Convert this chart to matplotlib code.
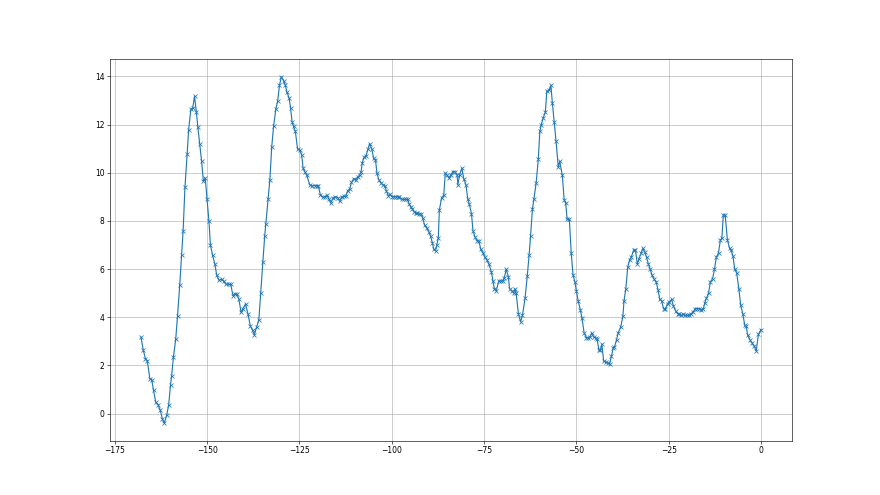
import matplotlib
matplotlib.use("Agg")
import matplotlib.pyplot as plt

# values
x_vals = [
    -167.9, -167.3, -166.7, -166.2, -165.5, -165.0, -164.5, -163.9, -163.3, -162.7,
    -162.1, -161.6, -160.9, -160.4, -159.9, -159.6, -159.1, -158.5, -158.0, -157.4,
    -156.9, -156.5, -156.0, -155.4, -155.0, -154.4, -153.9, -153.4, -152.9, -152.5,
    -152.0, -151.5, -151.0, -150.5, -150.0, -149.5, -149.1, -148.5, -147.9, -147.4,
    -146.8, -146.1, -145.5, -144.9, -144.2, -143.6, -143.0, -142.4, -141.9, -141.4,
    -140.8, -140.3, -139.6, -138.9, -138.3, -137.7, -137.2, -136.6, -136.0, -135.5,
    -134.9, -134.4, -134.1, -133.5, -133.0, -132.5, -132.0, -131.4, -130.9, -130.4,
    -129.9, -129.3, -128.8, -128.4, -127.8, -127.4, -127.0, -126.6, -126.1, -125.5,
    -124.9, -124.4, -124.0, -123.5, -123.0, -122.2, -121.6, -120.9, -120.3, -119.9,
    -119.3, -118.7, -118.1, -117.5, -117.0, -116.5, -115.9, -115.3, -114.6, -114.1,
    -113.6, -113.0, -112.5, -111.9, -111.4, -110.9, -110.3, -109.8, -109.2, -108.7,
    -108.3, -108.0, -107.5, -107.0, -106.4, -106.0, -105.4, -104.9, -104.4, -104.0,
    -103.5, -102.9, -102.4, -101.8, -101.5, -100.9, -100.5, -99.9, -99.4, -98.9,
    -98.3, -97.9, -97.3, -96.8, -96.2, -95.7, -95.3, -94.9, -94.4, -93.9,
    -93.5, -93.1, -92.5, -92.0, -91.6, -91.1, -90.5, -90.0, -89.5, -89.0,
    -88.6, -88.1, -87.8, -87.4, -87.1, -86.5, -85.9, -85.5, -85.1, -84.5,
    -84.0, -83.4, -82.9, -82.3, -82.1, -81.6, -81.0, -80.5, -79.9, -79.4,
    -79.0, -78.4, -78.0, -77.5, -76.9, -76.4, -75.9, -75.3, -74.8, -74.2,
    -73.7, -73.0, -72.6, -72.2, -71.7, -71.0, -70.4, -69.9, -69.5, -69.0,
    -68.4, -68.1, -67.5, -67.0, -66.6, -66.3, -65.7, -65.1, -64.6, -63.9,
    -63.3, -62.8, -62.4, -61.9, -61.5, -60.9, -60.3, -59.9, -59.5, -59.0,
    -58.4, -58.0, -57.4, -56.9, -56.5, -56.0, -55.5, -54.9, -54.5, -53.8,
    -53.3, -52.9, -52.5, -51.9, -51.4, -50.9, -50.4, -50.0, -49.5, -48.9,
    -48.5, -47.9, -47.3, -46.9, -46.3, -45.9, -45.3, -44.8, -44.4, -43.9,
    -43.5, -43.1, -42.6, -42.1, -41.5, -41.0, -40.5, -40.0, -39.7, -39.1,
    -38.7, -38.0, -37.4, -37.1, -36.6, -36.1, -35.6, -35.1, -34.5, -34.0,
    -33.5, -33.1, -32.5, -32.0, -31.5, -31.0, -30.5, -30.0, -29.5, -28.9,
    -28.4, -27.9, -27.4, -26.9, -26.4, -25.9, -25.3, -24.8, -24.2, -23.7,
    -23.1, -22.6, -22.1, -21.6, -21.2, -20.6, -20.1, -19.5, -18.9, -18.4,
    -17.8, -17.3, -16.7, -16.2, -15.6, -15.2, -14.8, -14.2, -13.7, -13.1,
    -12.6, -12.1, -11.5, -11.0, -10.6, -10.2, -9.7, -9.1, -8.5, -8.1,
    -7.6, -7.1, -6.6, -6.0, -5.5, -4.9, -4.4, -4.0, -3.6, -2.9,
    -2.4, -1.8, -1.3, -0.7, 0.0,
]

y_vals = [
    3.17, 2.65, 2.28, 2.20, 1.44, 1.41, 0.96, 0.47, 0.37, 0.15,
    -0.22, -0.40, -0.04, 0.37, 1.20, 1.58, 2.37, 3.08, 4.07, 5.36,
    6.57, 7.57, 9.40, 10.78, 11.79, 12.63, 12.70, 13.17, 12.51, 11.90,
    11.20, 10.50, 9.64, 9.78, 8.90, 7.99, 7.00, 6.57, 6.21, 5.75,
    5.54, 5.58, 5.49, 5.37, 5.37, 5.37, 4.90, 4.98, 4.96, 4.76,
    4.20, 4.36, 4.55, 4.12, 3.64, 3.46, 3.28, 3.60, 3.87, 4.99,
    6.29, 7.38, 7.88, 8.90, 9.71, 11.07, 11.93, 12.63, 12.97, 13.63,
    13.99, 13.83, 13.63, 13.36, 13.11, 12.70, 12.13, 11.93, 11.72, 10.99,
    10.93, 10.76, 10.19, 10.03, 9.89, 9.50, 9.46, 9.47, 9.46, 9.47,
    9.07, 8.99, 9.00, 9.07, 8.90, 8.74, 8.95, 9.00, 8.97, 8.82,
    8.99, 9.02, 9.02, 9.26, 9.32, 9.60, 9.76, 9.71, 9.82, 9.92,
    10.03, 10.40, 10.65, 10.68, 10.99, 11.21, 10.99, 10.61, 10.54, 9.99,
    9.71, 9.57, 9.50, 9.46, 9.26, 9.04, 9.10, 9.01, 9.01, 9.01,
    9.01, 8.99, 8.90, 8.90, 8.90, 8.90, 8.71, 8.60, 8.49, 8.39,
    8.32, 8.32, 8.29, 8.29, 8.11, 7.83, 7.70, 7.56, 7.38, 7.10,
    6.82, 6.76, 7.00, 7.28, 8.46, 8.95, 9.08, 9.99, 9.92, 9.78,
    9.92, 10.05, 10.05, 9.92, 9.50, 9.92, 10.19, 9.76, 9.50, 8.90,
    8.71, 8.29, 7.60, 7.35, 7.18, 7.18, 6.82, 6.68, 6.51, 6.38,
    6.21, 5.88, 5.51, 5.19, 5.10, 5.51, 5.51, 5.51, 5.65, 5.99,
    5.68, 5.19, 5.10, 5.01, 5.18, 4.99, 4.15, 3.81, 4.08, 4.78,
    5.71, 6.58, 7.38, 8.49, 8.90, 9.57, 10.57, 11.72, 12.00, 12.28,
    12.51, 13.39, 13.42, 13.63, 12.90, 12.11, 11.31, 10.24, 10.47, 9.89,
    8.88, 8.76, 8.07, 8.07, 6.68, 5.75, 5.47, 5.10, 4.68, 4.29,
    3.99, 3.35, 3.15, 3.15, 3.18, 3.35, 3.18, 3.15, 3.11, 2.65,
    2.65, 2.88, 2.18, 2.14, 2.10, 2.07, 2.38, 2.74, 2.76, 3.07,
    3.35, 3.60, 4.04, 4.68, 5.19, 6.07, 6.38, 6.51, 6.79, 6.79,
    6.21, 6.40, 6.65, 6.86, 6.72, 6.49, 6.21, 5.99, 5.75, 5.57,
    5.47, 5.15, 4.74, 4.68, 4.36, 4.36, 4.57, 4.64, 4.74, 4.46,
    4.26, 4.15, 4.12, 4.08, 4.12, 4.08, 4.08, 4.08, 4.15, 4.22,
    4.36, 4.36, 4.36, 4.32, 4.36, 4.60, 4.78, 5.01, 5.47, 5.61,
    5.99, 6.49, 6.68, 7.21, 7.28, 8.25, 8.25, 7.21, 6.86, 6.79,
    6.54, 5.99, 5.85, 5.19, 4.50, 4.12, 3.67, 3.63, 3.25, 3.04,
    2.93, 2.79, 2.60, 3.29, 3.49,
]

fig, ax = plt.subplots(figsize=(16, 9), dpi=55)
ax.plot(x_vals, y_vals, marker="x", color="C0")
ax.grid(True)

plt.savefig("out.png", dpi=55)
